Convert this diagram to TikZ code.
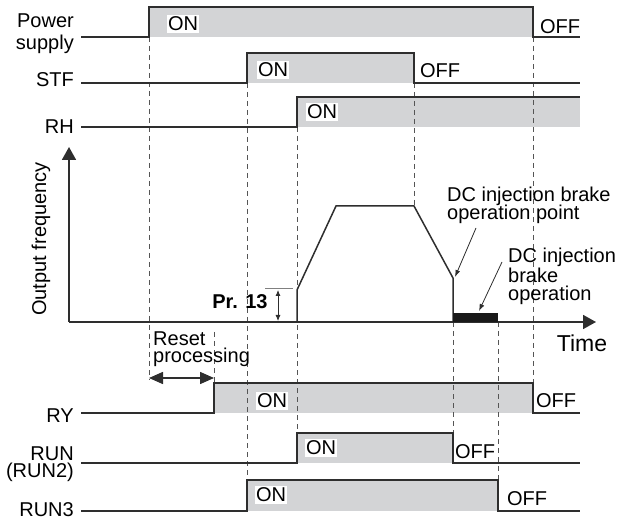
\documentclass[tikz,border=0pt]{standalone}
\usepackage{fontspec}
\setmainfont{Liberation Sans}
\usetikzlibrary{arrows.meta}
\definecolor{sigline}{HTML}{2E2E2E}
\definecolor{sigfill}{HTML}{D3D4D6}
\definecolor{guidegray}{HTML}{555555}

\begin{document}
\begin{tikzpicture}[x=1pt,y=-1pt,
  every node/.style={inner sep=0pt,font=\fontsize{20}{18}\selectfont},
  wave/.style={sigline,line width=1.5pt},
  band/.style={fill=sigfill},
  guide/.style={guidegray,line width=0.7pt,dash pattern=on 5pt off 4pt},
  onlabel/.style={fill=white,inner xsep=1pt,inner ysep=2pt},
  axis/.style={sigline,line width=1.8pt,-{Triangle[length=13pt,width=14pt]}},
  pointer/.style={sigline,line width=0.8pt,-{Latex[length=7pt,width=5pt]}}]
  \useasboundingbox (0,0) rectangle (618,518);

  \foreach \up/\dn/\hi/\lo in {149/533/7/37,247/414/53/83,297/580/97/127,214/533/383/413,297/453/433/463,247/498/480/511}
    \fill[band] (\up,\hi) rectangle (\dn,\lo);

  \foreach \x/\ya/\yb in {149/37/380,214/332/383,247/83/480,297/127/433,414/83/206,533/37/383,453/322/433,498/322/480}
    \draw[guide] (\x,\ya) -- (\x,\yb);

  \foreach \up/\dn/\hi/\lo in {149/533/7/37,247/414/53/83,214/533/383/413,297/453/433/463,247/498/480/511}
    \draw[wave] (81,\lo) -- (\up,\lo) -- (\up,\hi) -- (\dn,\hi) -- (\dn,\lo) -- (580,\lo);
  \draw[wave] (81,127) -- (297,127) -- (297,97) -- (580,97);

  \coordinate (origin) at (69,322);
  \coordinate (ftop) at (69,147);
  \coordinate (tend) at (596,322);
  \draw[axis] (origin) -- (ftop);
  \draw[axis] (origin) -- (tend);

  \draw[wave] (297,322) -- (297,290) -- (336,206) -- (414,206) -- (453,278) -- (453,322);
  \fill[black!90] (453,313) rectangle (498,322);

  \coordinate (prtop) at (278,290);
  \coordinate (prbot) at (278,321);
  \draw[gray,line width=1pt] (265,289) -- (293,289);
  \draw[sigline,line width=0.8pt,{Latex[length=6pt,width=5pt]}-{Latex[length=6pt,width=5pt]}] (prtop) -- (prbot);

  \coordinate (rstl) at (149,378);
  \coordinate (rstr) at (214,378);
  \draw[sigline,line width=1.5pt,{Triangle[length=14pt,width=12pt]}-{Triangle[length=14pt,width=12pt]}] (rstl) -- (rstr);

  \node[anchor=base east] (pwr) at (74,28) {Power};
  \node[anchor=base east] (sup) at (74,50) {supply};
  \node[anchor=base east] (stf) at (74,87) {STF};
  \node[anchor=base east] (rh) at (74,134) {RH};
  \node[anchor=base east] (ry) at (74,422) {RY};
  \node[anchor=base east] (run) at (74,460) {RUN};
  \node[anchor=base east] (runtwo) at (74,477) {(RUN2)};
  \node[anchor=base east] (runthree) at (74,516) {RUN3};

  \node[onlabel] (pwron) at (183,24) {ON};
  \node[onlabel] (stfon) at (273,70) {ON};
  \node[onlabel] (rhon) at (322,112) {ON};
  \node[onlabel] (ryon) at (272,401) {ON};
  \node[onlabel] (runon) at (321,448) {ON};
  \node[onlabel] (runthreeon) at (271,495) {ON};

  \node (pwroff) at (560,27) {OFF};
  \node (stfoff) at (440,71) {OFF};
  \node (ryoff) at (556,401) {OFF};
  \node (runoff) at (475,452) {OFF};
  \node (runthreeoff) at (527,499) {OFF};

  \node[rotate=90] (outf) at (41,239) {Output frequency};
  \node[font=\fontsize{20}{18}\selectfont\bfseries] (prthirteen) at (240,302) {Pr. 13};
  \node[font=\fontsize{23}{24}\selectfont] (time) at (582,343) {Time};
  \node[anchor=base west] (rst) at (153,345) {Reset};
  \node[anchor=base west] (proc) at (153,362) {processing};

  \node[anchor=base west] (dcpa) at (447,202) {DC injection brake};
  \node[anchor=base west] (dcpb) at (447,220) {operation point};
  \node[anchor=base west] (dcoa) at (508,263) {DC injection};
  \node[anchor=base west] (dcob) at (508,283) {brake};
  \node[anchor=base west] (dcoc) at (508,301) {operation};

  \coordinate (dcpfrom) at (476,228);
  \coordinate (dcpto) at (455,277);
  \coordinate (dcofrom) at (502,262);
  \coordinate (dcoto) at (479,311);
  \draw[pointer] (dcpfrom) -- (dcpto);
  \draw[pointer] (dcofrom) -- (dcoto);
\end{tikzpicture}
\end{document}
